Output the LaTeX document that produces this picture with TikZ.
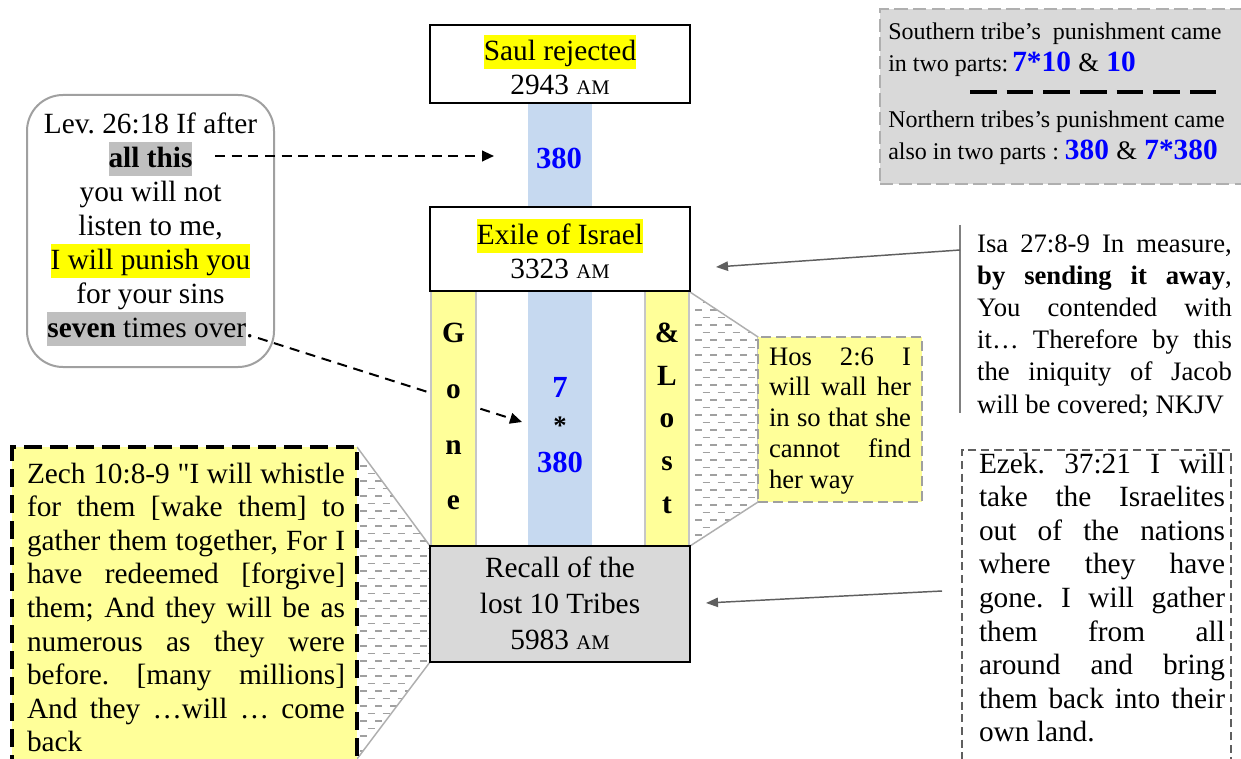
\documentclass[tikz,border=0pt]{standalone}
\usepackage{fontspec}
\setmainfont{Liberation Serif}[Ligatures=TeXOff]
\usetikzlibrary{arrows.meta}
\definecolor{lyel}{RGB}{255,255,153}
\definecolor{bcol}{RGB}{198,217,240}
\definecolor{gfill}{RGB}{217,217,217}
\definecolor{hgray}{RGB}{191,191,191}
\definecolor{hyel}{RGB}{255,255,0}
\definecolor{tblue}{RGB}{0,0,255}
\definecolor{bgray}{RGB}{160,160,160}
\definecolor{lgray}{RGB}{175,175,175}
\definecolor{agray}{RGB}{95,95,95}
\definecolor{hatchc}{RGB}{160,160,160}
\frenchspacing
\newcommand\fsz[2]{\fontsize{#1}{#2}\selectfont\lineskiplimit=-\maxdimen\lineskip=0pt\relax}
\newcommand\ts{\rule[-0.3em]{0pt}{1.3em}}
\newcommand\hl[2]{{\setlength{\fboxsep}{0pt}\colorbox{#1}{\rule[-0.27em]{0pt}{1.16em}#2}}}
\newcommand\am{{\fontsize{15.5}{15.5}\selectfont AM}}
\newcommand\bn[1]{\textbf{\color{tblue}#1}}
\newcommand\jz[1]{\makebox[238.5pt][s]{#1}}
\newcommand\je[1]{\makebox[184.5pt][s]{#1}}
\newcommand\ji[1]{\makebox[191pt][s]{#1}}
\newcommand\jh[1]{\makebox[106.5pt][s]{#1}}
\tikzset{
  box/.style={draw=black, line width=1.5pt, fill=white, minimum width=195pt, inner sep=0pt},
  txt/.style={inner sep=0pt, outer sep=0pt, align=center},
  jtxt/.style={inner sep=0pt, outer sep=0pt, align=left},
  dasharrow/.style={draw=black, line width=1.5pt, dash pattern=on 7.5pt off 5pt, -{Triangle[length=9pt,width=8pt]}},
  greyarrow/.style={draw=agray, line width=1.1pt, -{Triangle[length=9pt,width=7pt]}},
  hatchA/.style={draw=hatchc, line width=1.3pt, dash pattern=on 5.25pt off 6pt},
  hatchB/.style={draw=hatchc, line width=1.3pt, dash pattern=on 5.25pt off 6pt, dash phase=5.6pt},
  hatchborder/.style={draw=lgray, line width=1.1pt},
  ycol/.style={fill=lyel, draw=gray!45, line width=0.8pt},
}
\begin{document}
\begin{tikzpicture}[x=0.75pt, y=-0.75pt]
\useasboundingbox (0,0) rectangle (1241,759);
\clip (0,0) rectangle (1241,759);
\fill[white] (0,0) rectangle (1241,759);

% hatched connectors
\begin{scope}
\clip (357,447) -- (430,546) -- (430,662) -- (357,759) -- cycle;
\foreach \yy in {451,466,...,765} {\draw[hatchA] (360,\yy) -- (440,\yy);}
\foreach \yy in {458.5,473.5,...,765} {\draw[hatchB] (360,\yy) -- (440,\yy);}
\end{scope}
\draw[hatchborder] (357,447) -- (430,546) -- (430,662) -- (357,759);
\begin{scope}
\clip (690,292) -- (758,337) -- (758,502) -- (690,546) -- cycle;
\foreach \yy in {295,310,...,550} {\draw[hatchA] (695,\yy) -- (765,\yy);}
\foreach \yy in {302.5,317.5,...,550} {\draw[hatchB] (695,\yy) -- (765,\yy);}
\end{scope}
\draw[hatchborder] (690,292) -- (758,337) -- (758,502) -- (690,546);

% blue column
\fill[bcol] (528,103) rectangle (592,546);

% coordinates for connectors
\coordinate (l1s) at (215,156);
\coordinate (l1e) at (494,156);
\coordinate (l2s) at (258,338);
\coordinate (l2e) at (522,422);
\coordinate (isaT) at (960,225);
\coordinate (isaB) at (960,413);
\coordinate (isaM) at (960,250);
\coordinate (isaE) at (716,267);
\coordinate (ezS) at (942,591);
\coordinate (ezE) at (706,603);
\coordinate (sepA) at (970,92);
\coordinate (sepB) at (1216,92);

\draw[dasharrow] (l2s) -- (l2e);

% yellow side columns
\draw[ycol] (431,291) rectangle (476,546);
\draw[ycol] (645,291) rectangle (689,546);

% central boxes
\node[box, minimum height=58.5pt] (saul) at (560,64) {};
\node[txt, font=\fsz{22pt}{25.5pt}] (saulT) at (560,67.7) {\ts\hl{hyel}{Saul rejected}\\2943 \am\ts};
\node[box, minimum height=63pt] (exile) at (560,249) {};
\node[txt, font=\fsz{22pt}{25.5pt}] (exileT) at (560,251.7) {\ts\hl{hyel}{Exile of Israel}\\3323 \am\ts};
\node[box, fill=gfill, minimum height=87pt] (recall) at (560,604) {};
\node[txt, font=\fsz{22pt}{27pt}] (recallT) at (560,603.7) {\ts Recall of the\\lost 10 Tribes\\5983 \am\ts};

\node[txt, font=\fsz{23pt}{23pt}\bfseries, text=tblue] (n380) at (559,158.5) {380};
\node[txt, font=\fsz{22pt}{41.75pt}\bfseries] (gone) at (453.5,416.2) {\ts G\\o\\n\\e\ts};
\node[txt, font=\fsz{22pt}{31.9pt}\bfseries] (lost) at (667,417.7) {\ts \&\\L\\o\\s\\t\ts};
\node[txt, font=\fsz{23pt}{28.1pt}\bfseries] (mult) at (560,423.8) {\ts\textcolor{tblue}{7}\\{\fontsize{20pt}{20pt}\selectfont *}\\\textcolor{tblue}{380}\ts};

% Lev box
\node[draw=bgray, line width=1.5pt, rounded corners=27pt, minimum width=185.25pt, minimum height=204pt, inner sep=0pt] (lev) at (150.5,231) {};
\node[txt, font=\fsz{22pt}{25.5pt}] (levT) at (150.5,225.5) {\ts Lev. 26:18 If after\\\hl{hgray}{\textbf{all this}}\\you will not\\listen to me,\\\hl{hyel}{I will punish you}\\for your sins\\\hl{hgray}{\textbf{seven} times over}.\ts};
\draw[dasharrow] (l1s) -- (l1e);

% top right box
\node[draw=lgray, fill=gfill, line width=2.2pt, dash pattern=on 10pt off 4pt, minimum width=273.75pt, minimum height=131.25pt, inner sep=0pt] (trbox) at (1062.5,96.5) {};
\node[inner sep=0pt, anchor=base west, font=\fsz{18pt}{20pt}] (tr1) at (888,40) {Southern tribe’s\ \ punishment came};
\node[inner sep=0pt, anchor=base west, font=\fsz{18pt}{20pt}] (tr2) at (888,72) {in two parts:\hspace{3pt}{\fontsize{22pt}{22pt}\selectfont\bn{7*10} {\fontsize{20pt}{20pt}\selectfont\&} \bn{10}}};
\draw[black, line width=3pt, dash pattern=on 20pt off 7.5pt] (sepA) -- (sepB);
\node[inner sep=0pt, anchor=base west, font=\fsz{18pt}{20pt}] (tr3) at (888,128) {Northern tribes’s punishment came};
\node[inner sep=0pt, anchor=base west, font=\fsz{18pt}{20pt}] (tr4) at (888,160) {also in two parts : {\fontsize{22pt}{22pt}\selectfont\bn{380} {\fontsize{20pt}{20pt}\selectfont\&} \bn{7*380}}};

% Isa
\draw[draw=gray, line width=1.1pt] (isaT) -- (isaB);
\draw[greyarrow] (isaM) -- (isaE);
\node[jtxt, font=\fsz{20pt}{24.15pt}] (isa) at (1104.5,323.2) {\ts\ji{Isa 27:8-9 In measure,}\\\ji{\textbf{by sending it away},}\\\ji{You contended with}\\\ji{it… Therefore by this}\\\ji{the iniquity of Jacob}\\will be covered; NKJV\ts};

% Hos
\node[draw=bgray, fill=lyel, line width=2.2pt, dash pattern=on 7.5pt off 3.75pt, minimum width=123pt, minimum height=123.75pt, inner sep=0pt] (hos) at (840,419.5) {};
\node[jtxt, font=\fsz{20pt}{23.06pt}] (hosT) at (840,417.2) {\ts\jh{Hos 2:6 I}\\\jh{will wall her}\\\jh{in so that she}\\\jh{cannot find}\\her way\ts};

% Zech
\node[draw=black, fill=lyel, line width=2.5pt, dash pattern=on 13.5pt off 6pt, minimum width=258.75pt, minimum height=246pt, inner sep=0pt] (zech) at (184.5,611) {};
\node[jtxt, font=\fsz{22pt}{25.2pt}] (zechT) at (186,607.2) {\ts\jz{Zech 10:8-9 "I will whistle}\\\jz{for them [wake them] to}\\\jz{gather them together, For I}\\\jz{have redeemed [forgive]}\\\jz{them; And they will be as}\\\jz{numerous as they were}\\\jz{before. [many millions]}\\\jz{And they …will … come}\\back\ts};

% Ezek
\node[draw=agray, fill=white, line width=1.1pt, dash pattern=on 6pt off 3.5pt, minimum width=201.75pt, minimum height=243.75pt, inner sep=0pt] (ezek) at (1096.5,612.5) {};
\node[jtxt, font=\fsz{22pt}{25.2pt}] (ezekT) at (1102,597.2) {\ts\je{Ezek. 37:21 I will}\\\je{take the Israelites}\\\je{out of the nations}\\\je{where they have}\\\je{gone. I will gather}\\\je{them from all}\\\je{around and bring}\\\je{them back into their}\\own land.\ts};
\draw[greyarrow] (ezS) -- (ezE);
\end{tikzpicture}
\end{document}
